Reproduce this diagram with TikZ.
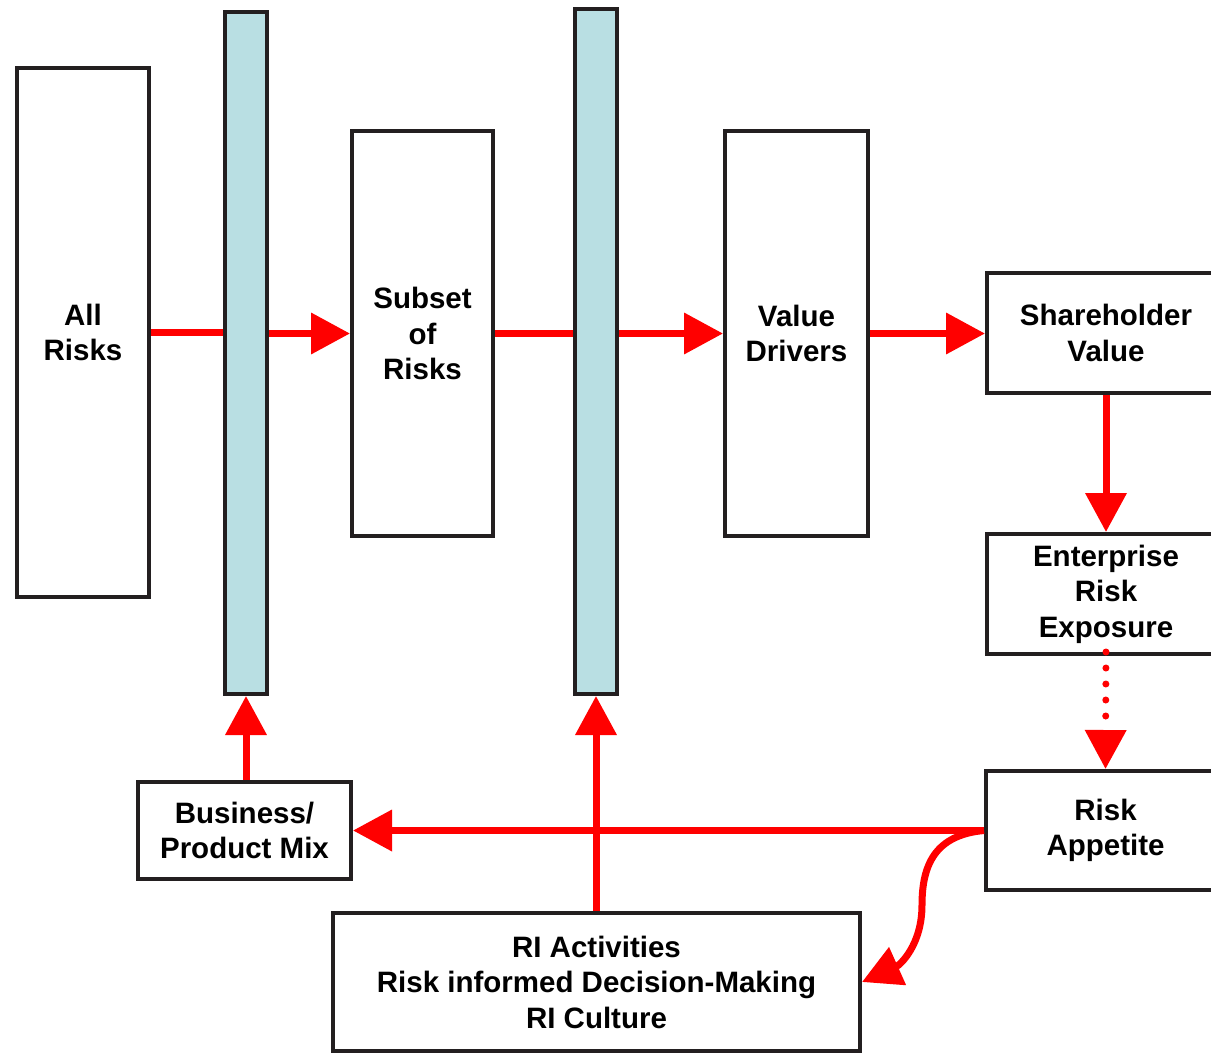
\documentclass[tikz,border=0pt]{standalone}
\usepackage{fontspec}
\setmainfont{Liberation Sans}
\usetikzlibrary{arrows.meta}
\definecolor{boxline}{HTML}{231F20}
\definecolor{barfill}{HTML}{B9DFE3}
\definecolor{flow}{HTML}{FF0000}
\begin{document}
\begin{tikzpicture}[x=1pt,y=-1pt,
  box/.style={draw=boxline,line width=4pt,fill=white,rectangle,inner sep=0pt,
    align=center,font=\fontsize{29.5}{35.5}\selectfont\bfseries},
  bar/.style={draw=boxline,line width=4pt,fill=barfill,rectangle,inner sep=0pt},
  link/.style={draw=flow,line width=7pt},
  arr/.style={link,-{Triangle[width=40pt,length=39pt]}}]
\useasboundingbox (0,0) rectangle (1211,1055);
\clip (0,0) rectangle (1211,1055);
% filters
\node[bar,minimum width=42pt,minimum height=682pt] (bar1) at (246,353) {};
\node[bar,minimum width=42pt,minimum height=685pt] (bar2) at (596,351.5) {};
% boxes
\node[box,minimum width=132pt,minimum height=529pt] (all) at (83,332.5) {All\\Risks};
\node[box,minimum width=141pt,minimum height=405pt] (subset) at (422.5,333.5) {Subset\\of\\Risks};
\node[box,minimum width=143pt,minimum height=405pt] (drivers) at (796.5,333.5) {Value\\Drivers};
\node[box,minimum width=238pt,minimum height=120pt] (share) at (1106,333) {Shareholder\\Value};
\node[box,minimum width=238pt,minimum height=120pt] (ere) at (1106,594) {Enterprise\\Risk\\Exposure};
\node[box,minimum width=239pt,minimum height=119pt] (appetite) at (1105.5,830.5) {Risk\\Appetite};
\node[box,minimum width=213pt,minimum height=97pt] (mix) at (244.5,830.5) {Business/\\Product Mix};
\node[box,minimum width=527pt,minimum height=138pt] (ri) at (596.5,982) {RI Activities\\Risk informed Decision-Making\\RI Culture};
% flow through the filters
\draw[link] (all.east) -- (bar1.west |- all.east);
\draw[arr] (bar1.east |- subset.west) -- (subset.west);
\draw[link] (subset.east) -- (bar2.west |- subset.east);
\draw[arr] (bar2.east |- drivers.west) -- (drivers.west);
\draw[arr] (drivers.east) -- (share.west |- drivers.east);
\draw[arr] (share.south) -- (ere.north);
\draw[link,line cap=round,dash pattern=on 0pt off 16pt,-{Triangle[width=40pt,length=39pt]}]
  ([yshift=4pt]ere.south) -- (appetite.north);
% feedback
\draw[arr] (appetite.west) -- (mix.east);
\draw[arr] (appetite.west) .. controls (935,835) and (922,865) .. (922,905)
  .. controls (922,945) and (900,965) .. (ri.east);
\draw[arr] (ri.north -| bar2.south) -- (bar2.south);
\draw[arr] (bar1.south |- mix.north) -- (bar1.south);
\end{tikzpicture}
\end{document}
